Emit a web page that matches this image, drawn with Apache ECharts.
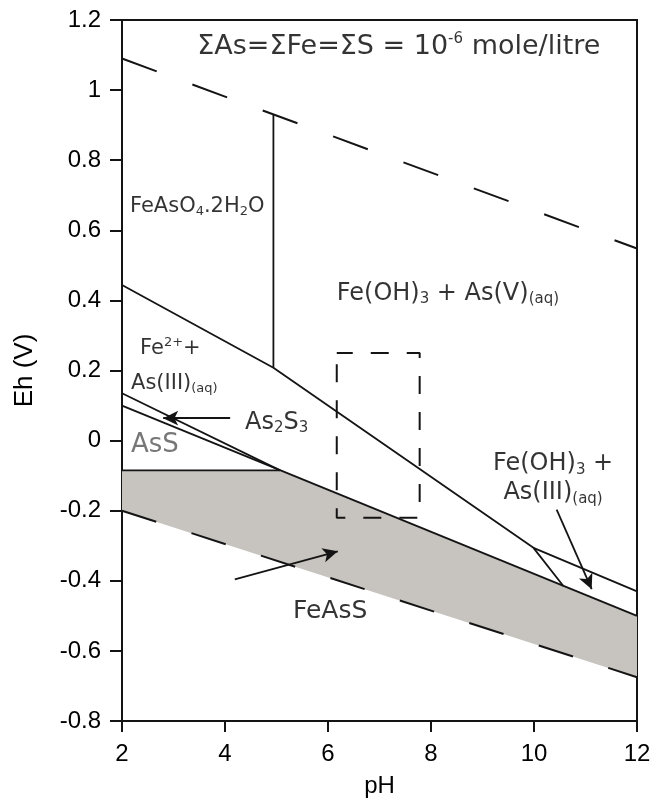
<!DOCTYPE html>
<html>
<head>
<meta charset="utf-8">
<script src="https://cdn.jsdelivr.net/npm/echarts@6/dist/echarts.min.js"></script>
<style>
  html, body { margin: 0; padding: 0; background: #fff; }
  #main { width: 657px; height: 803px; }
</style>
</head>
<body>
<div id="main"></div>
<script>
// Eh-pH stability fields for As-Fe-S
const upperWaterPH = [2, 12]
const upperWaterEh = [1.09, 0.548]
const lowerWaterPH = [2, 12]
const lowerWaterEh = [-0.2, -0.675]

const scoroditePH = [4.94, 4.94] // FeAsO4.2H2O right edge
const scoroditeEh = [0.931, 0.208]
const fe3PH = [2, 4.94, 9.99, 10.57] // Fe2+ / Fe(OH)3 boundary
const fe3Eh = [0.444, 0.208, -0.306, -0.415]
const as3PH = [9.99, 12] // As(V) / As(III) boundary
const as3Eh = [-0.306, -0.43]
const as2s3PH = [2, 5.07]
const as2s3Eh = [0.135, -0.085]
const feAsSPH = [2, 12] // top of FeAsS field
const feAsSEh = [0.1, -0.5]
const assFloorPH = [2, 5.07]
const assFloorEh = [-0.085, -0.085]

const fillPH = [2, 5.07, 12, 12, 2]
const fillEh = [-0.085, -0.085, -0.5, -0.675, -0.2]

const boxPH = [6.17, 7.78, 7.78, 6.17, 6.17]
const boxEh = [0.25, 0.25, -0.22, -0.22, 0.25]

const arrowTailPH = [4.1, 4.19, 10.44]
const arrowTailEh = [0.064, -0.396, -0.197]
const arrowTipPH = [2.8, 6.19, 11.12]
const arrowTipEh = [0.064, -0.316, -0.424]

const xTicks = [2, 4, 6, 8, 10, 12]
const yTicks = [-0.8, -0.6, -0.4, -0.2, 0, 0.2, 0.4, 0.6, 0.8, 1, 1.2]

const pairs = (xs, ys) => xs.map((x, i) => [x, ys[i]])

const AX = 'Liberation Sans, Arial, sans-serif'
const TF = 'DejaVu Sans, sans-serif'
const INK = '#141414'
const TXT = '#000'

// text annotations: anchor in data units, alignment, rich formatter
const notes = [
  { at: [3.46, 1.122], align: 'left', text: '{t|ΣAs=ΣFe=ΣS = 10}{tsup|-6}{t| mole/litre}' },
  { at: [2.155, 0.668], align: 'left', text: '{m|FeAsO}{msub|4}{m|.2H}{msub|2}{m|O}' },
  { at: [6.17, 0.42], align: 'left', text: '{n|Fe(OH)}{sub|3}{n| + As(V)}{sub|(aq)}' },
  { at: [2.35, 0.262], align: 'left', text: '{m|Fe}{msup|2+}{m|+}' },
  { at: [2.175, 0.164], align: 'left', text: '{m|As(III)}{msub|(aq)}' },
  { at: [4.39, 0.052], align: 'left', text: '{n|As}{sub|2}{n|S}{sub|3}' },
  { at: [2.175, -0.012], align: 'left', text: '{g|AsS}' },
  { at: [5.32, -0.488], align: 'left', text: '{f|FeAsS}' },
  { at: [10.37, -0.108], align: 'center', text: '{n|Fe(OH)}{sub|3}{n| +}\n{n|As(III)}{sub|(aq)}' }
]

const rich = {
  t: { fontFamily: TF, fontSize: 27, color: TXT, lineHeight: 32 },
  tsup: { fontFamily: TF, fontSize: 15, color: TXT, verticalAlign: 'top', lineHeight: 32 },
  n: { fontFamily: TF, fontSize: 24, color: TXT, lineHeight: 29 },
  sub: { fontFamily: TF, fontSize: 15, color: TXT, verticalAlign: 'bottom', lineHeight: 29, padding: [0, 0, 1, 0] },
  m: { fontFamily: TF, fontSize: 21, color: TXT, lineHeight: 26 },
  msub: { fontFamily: TF, fontSize: 13, color: TXT, verticalAlign: 'bottom', lineHeight: 26, padding: [0, 0, 1, 0] },
  msup: { fontFamily: TF, fontSize: 13, color: TXT, verticalAlign: 'top', lineHeight: 26 },
  f: { fontFamily: TF, fontSize: 25, color: TXT, lineHeight: 30 },
  g: { fontFamily: TF, fontSize: 26, color: '#555', lineHeight: 30 }
}

const myChart = echarts.init(document.getElementById('main'), null, { renderer: 'canvas' })

const lineSeries = (data, extra) => Object.assign({
  type: 'line',
  data: data,
  showSymbol: false,
  symbol: 'none',
  silent: true,
  animation: false,
  lineStyle: { color: INK, width: 1.8 },
  z: 3
}, extra || {})

const option = {
  backgroundColor: '#fff',
  animation: false,
  grid: {
    left: 122,
    right: 20,
    top: 20,
    bottom: 77,
    show: true,
    borderColor: INK,
    borderWidth: 2,
    backgroundColor: 'transparent'
  },
  xAxis: {
    type: 'value',
    min: 2,
    max: 12,
    interval: 2,
    name: 'pH',
    nameLocation: 'middle',
    nameGap: 53,
    nameTextStyle: { fontFamily: AX, fontSize: 24, color: TXT },
    axisLine: { show: true, onZero: false, lineStyle: { color: INK, width: 2 } },
    axisTick: { show: true, inside: false, length: 11, lineStyle: { color: INK, width: 2 } },
    axisLabel: {
      margin: 21,
      fontFamily: AX,
      fontSize: 24,
      color: TXT,
      formatter: v => (xTicks.includes(v) ? String(v) : '')
    },
    splitLine: { show: false }
  },
  yAxis: {
    type: 'value',
    min: -0.8,
    max: 1.2,
    interval: 0.2,
    name: 'Eh (V)',
    nameLocation: 'middle',
    nameGap: 84,
    nameTextStyle: { fontFamily: AX, fontSize: 26, color: TXT },
    axisLine: { show: true, onZero: false, lineStyle: { color: INK, width: 2 } },
    axisTick: { show: true, inside: false, length: 12, lineStyle: { color: INK, width: 2 } },
    axisLabel: {
      margin: 21,
      fontFamily: AX,
      fontSize: 24,
      color: TXT,
      formatter: v => {
        const r = Math.round(v * 10) / 10
        return yTicks.includes(r) ? String(r) : ''
      }
    },
    splitLine: { show: false }
  },
  series: [
    {
      // grey FeAsS field
      type: 'custom',
      silent: true,
      z: 1,
      data: [0],
      renderItem: function (params, api) {
        const pts = pairs(fillPH, fillEh).map(p => api.coord(p))
        return {
          type: 'polygon',
          shape: { points: pts },
          style: { fill: '#c7c3bf', stroke: 'none' }
        }
      }
    },
    lineSeries(pairs(upperWaterPH, upperWaterEh), {
      lineStyle: { color: INK, width: 2, type: [37, 38] }
    }),
    lineSeries(pairs(lowerWaterPH, lowerWaterEh), {
      lineStyle: { color: INK, width: 2, type: [36, 37] }
    }),
    lineSeries(pairs(scoroditePH, scoroditeEh)),
    lineSeries(pairs(fe3PH, fe3Eh)),
    lineSeries(pairs(as3PH, as3Eh)),
    lineSeries(pairs(as2s3PH, as2s3Eh)),
    lineSeries(pairs(feAsSPH, feAsSEh)),
    lineSeries(pairs(assFloorPH, assFloorEh)),
    lineSeries(pairs(boxPH, boxEh), {
      lineStyle: { color: INK, width: 2, type: [18, 18], dashOffset: 2 },
      markLine: {
        silent: true,
        animation: false,
        symbol: ['none', 'arrow'],
        symbolSize: [11, 15],
        label: { show: false },
        lineStyle: { color: INK, width: 1.8, type: 'solid' },
        emphasis: { disabled: true },
        data: arrowTailPH.map((x, i) => [
          { coord: [x, arrowTailEh[i]] },
          { coord: [arrowTipPH[i], arrowTipEh[i]] }
        ])
      }
    }),
    {
      type: 'scatter',
      silent: true,
      symbolSize: 0,
      z: 5,
      data: notes.map(d => ({
        value: d.at,
        label: {
          show: true,
          position: 'inside',
          align: d.align,
          verticalAlign: 'middle',
          formatter: d.text,
          rich: rich
        }
      }))
    }
  ]
}

myChart.setOption(option)
window.addEventListener('resize', function () {
  myChart.resize()
})
</script>
</body>
</html>
